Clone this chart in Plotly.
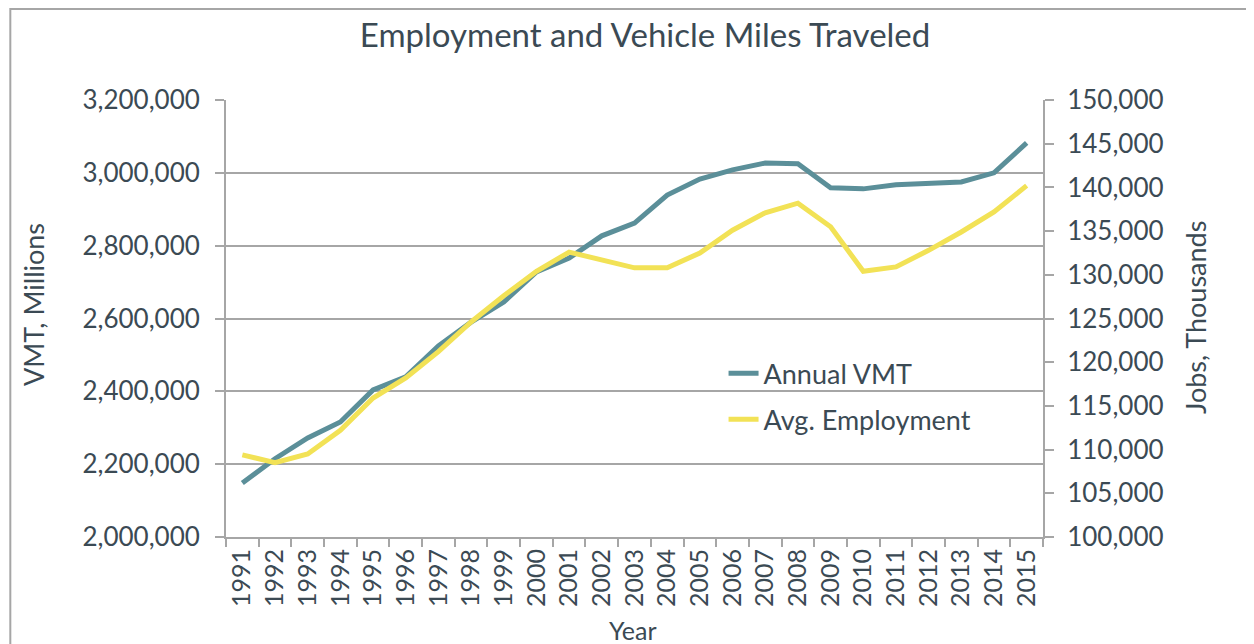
import plotly.graph_objects as go

years = [str(y) for y in range(1991, 2016)]
vmt = [2148000, 2215000, 2272000, 2316000, 2404000, 2440000, 2525000, 2590000,
       2645000, 2728000, 2766000, 2827000, 2862000, 2939000, 2983000, 3008000,
       3027000, 3025000, 2959000, 2956000, 2967000, 2970000, 2975000, 3000000,
       3082000]
jobs = [109400, 108500, 109500, 112200, 115900, 118200, 121200, 124600,
        127600, 130400, 132600, 131700, 130800, 130800, 132500, 135100,
        137100, 138200, 135500, 130400, 130900, 132800, 134900, 137200,
        140200]

txt = "#3b4a54"
grid = "#a6a6a6"
fnt = "Lato, Noto Sans, sans-serif"

fig = go.Figure()
fig.add_trace(go.Scatter(x=years, y=vmt, name="Annual VMT", mode="lines",
                         legendgroup="a",
                         line=dict(color="#5b8f99", width=5)))
fig.add_trace(go.Scatter(x=years, y=jobs, name="Avg. Employment", mode="lines",
                         legendgroup="b",
                         line=dict(color="#f2e256", width=5), yaxis="y2"))

# page body has an 8px margin, so the plot box is shifted up/left by 8
fig.update_layout(
    width=1254, height=644,
    margin=dict(l=218, r=219, t=92, b=115),
    paper_bgcolor="white", plot_bgcolor="white",
    font=dict(family=fnt, color=txt),
    title=dict(text="Employment and Vehicle Miles Traveled", x=0.508, xanchor="center",
               y=0.958, yanchor="middle", font=dict(size=33, color=txt)),
    xaxis=dict(type="category", range=[-0.5, len(years) - 0.5],
               tickangle=-90, tickfont=dict(size=25),
               showgrid=False, showline=True, linecolor=grid, linewidth=2,
               ticks="outside", tickson="boundaries", ticklen=8, tickcolor=grid,
               tickwidth=2, automargin=False),
    yaxis=dict(range=[2000000, 3200000], dtick=200000, tickformat=",d",
               tickfont=dict(size=26), showgrid=True, gridcolor=grid, gridwidth=2,
               showline=True, linecolor=grid, linewidth=2, ticks="outside",
               ticklen=9, tickcolor=grid, tickwidth=2, zeroline=False,
               ticklabelstandoff=10, automargin=False),
    yaxis2=dict(range=[100000, 150000], dtick=5000, tickformat=",d",
                tickfont=dict(size=26), overlaying="y", side="right",
                showgrid=False, showline=True, linecolor=grid, linewidth=2,
                ticks="outside", ticklen=9, tickcolor=grid, tickwidth=2,
                zeroline=False, ticklabelstandoff=8, automargin=False),
    legend=dict(x=0.609, y=0.43, xanchor="left", yanchor="top",
                bgcolor="rgba(0,0,0,0)", font=dict(size=27, color=txt),
                tracegroupgap=8),
    showlegend=True,
)

# axis titles
fig.add_annotation(text="VMT, Millions", xref="paper", yref="paper",
                   x=(33 - 226) / 817, y=(537 - 305) / 437, textangle=-90,
                   xanchor="center", yanchor="middle",
                   showarrow=False, font=dict(size=27, color=txt))
fig.add_annotation(text="Jobs, Thousands", xref="paper", yref="paper",
                   x=(1195 - 226) / 817, y=(537 - 318) / 437, textangle=-90,
                   xanchor="center", yanchor="middle",
                   showarrow=False, font=dict(size=27, color=txt))
fig.add_annotation(text="Year", xref="paper", yref="paper",
                   x=(633 - 226) / 817, y=(537 - 630) / 437,
                   xanchor="center", yanchor="middle",
                   showarrow=False, font=dict(size=25, color=txt))

fig.add_shape(type="rect", xref="paper", yref="paper",
              x0=-0.264, x1=1.4, y0=-0.4, y1=1.208,
              line=dict(color="#a6a6a6", width=2), layer="below")

fig.write_html("out.html")
